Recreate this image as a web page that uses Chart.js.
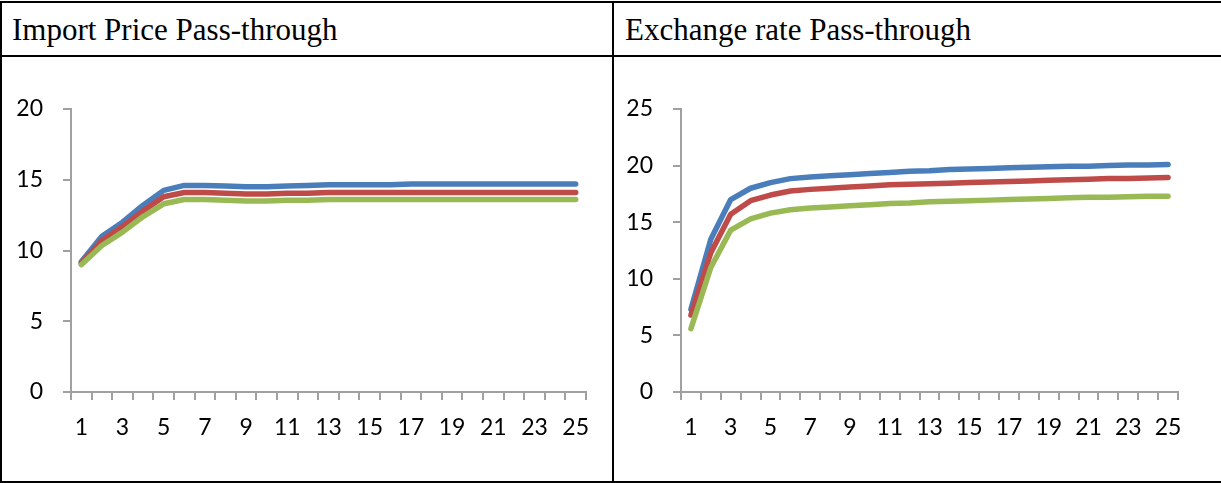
<html>
  <head>
    <title>Pass-through</title>
    <script src="https://cdn.jsdelivr.net/npm/chart.js@4.4.0/dist/chart.umd.min.js"></script>
    <style>
      body { margin: 0; background: #fff; }
      .line { position: absolute; background: #000; }
      .title { position: absolute; top: 12px; font: 31px "Liberation Serif", "Times New Roman", serif; color: #000; white-space: nowrap; }
      canvas { position: absolute; }
    </style>
  </head>

  <body>
    <div class = "line" style = "left: 0; top: 1px; width: 1221px; height: 2px"></div>
    <div class = "line" style = "left: 0; top: 55px; width: 1221px; height: 2px"></div>
    <div class = "line" style = "left: 0; top: 481px; width: 1221px; height: 2px"></div>
    <div class = "line" style = "left: 0; top: 1px; width: 2px; height: 482px"></div>
    <div class = "line" style = "left: 612px; top: 1px; width: 2px; height: 482px"></div>

    <div class = "title" style = "left: 12px">Import Price Pass-through</div>
    <div class = "title" style = "left: 625px">Exchange rate Pass-through</div>

    <canvas id = "import-chart" width = "608" height = "422" style = "left: 3px; top: 58px"></canvas>
    <canvas id = "exchange-chart" width = "605" height = "422" style = "left: 615px; top: 58px"></canvas>
  </body>

  <script>
    var horizons = [1, 2, 3, 4, 5, 6, 7, 8, 9, 10, 11, 12, 13, 14, 15, 16, 17, 18, 19, 20, 21, 22, 23, 24, 25];

    // import price pass-through
    var importBlue = [9.2, 11.0, 12.0, 13.2, 14.25, 14.6, 14.6, 14.55, 14.5, 14.5, 14.55, 14.6, 14.65, 14.65, 14.65, 14.65, 14.7, 14.7, 14.7, 14.7, 14.7, 14.7, 14.7, 14.7, 14.7];
    var importRed = [9.1, 10.7, 11.7, 12.8, 13.8, 14.1, 14.1, 14.05, 14.0, 14.0, 14.05, 14.05, 14.1, 14.1, 14.1, 14.1, 14.1, 14.1, 14.1, 14.1, 14.1, 14.1, 14.1, 14.1, 14.1];
    var importGreen = [9.0, 10.35, 11.3, 12.4, 13.3, 13.6, 13.6, 13.55, 13.5, 13.5, 13.55, 13.55, 13.6, 13.6, 13.6, 13.6, 13.6, 13.6, 13.6, 13.6, 13.6, 13.6, 13.6, 13.6, 13.6];
    var importTicks = [0, 5, 10, 15, 20];

    // exchange rate pass-through
    var exchangeBlue = [7.3, 13.5, 17.0, 18.0, 18.5, 18.85, 19.0, 19.1, 19.2, 19.3, 19.4, 19.5, 19.55, 19.65, 19.7, 19.75, 19.8, 19.85, 19.9, 19.95, 19.95, 20.0, 20.05, 20.05, 20.1];
    var exchangeRed = [6.8, 12.3, 15.7, 16.9, 17.4, 17.75, 17.9, 18.0, 18.1, 18.2, 18.3, 18.35, 18.4, 18.45, 18.5, 18.55, 18.6, 18.65, 18.7, 18.75, 18.8, 18.85, 18.85, 18.9, 18.95];
    var exchangeGreen = [5.6, 11.0, 14.3, 15.3, 15.8, 16.1, 16.25, 16.35, 16.45, 16.55, 16.65, 16.7, 16.8, 16.85, 16.9, 16.95, 17.0, 17.05, 17.1, 17.15, 17.2, 17.2, 17.25, 17.3, 17.3];
    var exchangeTicks = [0, 5, 10, 15, 20, 25];

    var axisGrey = "#A0A0A0";
    var tickFont = { family: "Lato, Carlito, Calibri, sans-serif", size: 23 };

    function series(data, color, order) {
      return {
        data: data,
        borderColor: color,
        borderWidth: 5.5,
        borderCapStyle: "round",
        borderJoinStyle: "round",
        pointRadius: 0,
        tension: 0,
        fill: false,
        order: order
      };
    }

    function drawChart(id, blue, red, green, yTicks, yWidth, padRight) {
      new Chart(document.getElementById(id), {
        type: "line",
        data: {
          labels: horizons,
          datasets: [
            series(blue, "#4A7EBB", 3),
            series(red, "#BE4B48", 2),
            series(green, "#98B954", 1)
          ]
        },
        options: {
          responsive: false,
          animation: false,
          layout: { padding: { left: 0, right: padRight, top: 51, bottom: 0 } },
          plugins: { legend: { display: false }, tooltip: { enabled: false } },
          scales: {
            x: {
              offset: true,
              grid: { offset: true, drawOnChartArea: false, drawTicks: true, tickLength: 8, color: axisGrey, lineWidth: 2 },
              border: { color: axisGrey, width: 2 },
              ticks: {
                autoSkip: false,
                maxRotation: 0,
                padding: 14,
                color: "#000",
                font: tickFont,
                callback: function(val, i) { return i % 2 == 0 ? horizons[i] : ""; }
              },
              afterFit: function(scale) { scale.height = 88; }
            },
            y: {
              min: yTicks[0],
              max: yTicks[yTicks.length - 1],
              grid: { drawOnChartArea: false, drawTicks: true, tickLength: 8, color: axisGrey, lineWidth: 2 },
              border: { color: axisGrey, width: 2 },
              afterBuildTicks: function(scale) {
                scale.ticks = yTicks.map(function(v) { return { value: v }; });
              },
              ticks: { padding: 20, color: "#000", font: tickFont },
              afterFit: function(scale) { scale.width = yWidth; }
            }
          }
        }
      });
    }

    drawChart("import-chart", importBlue, importRed, importGreen, importTicks, 68, 25);
    drawChart("exchange-chart", exchangeBlue, exchangeRed, exchangeGreen, exchangeTicks, 66, 42);
  </script>
</html>
